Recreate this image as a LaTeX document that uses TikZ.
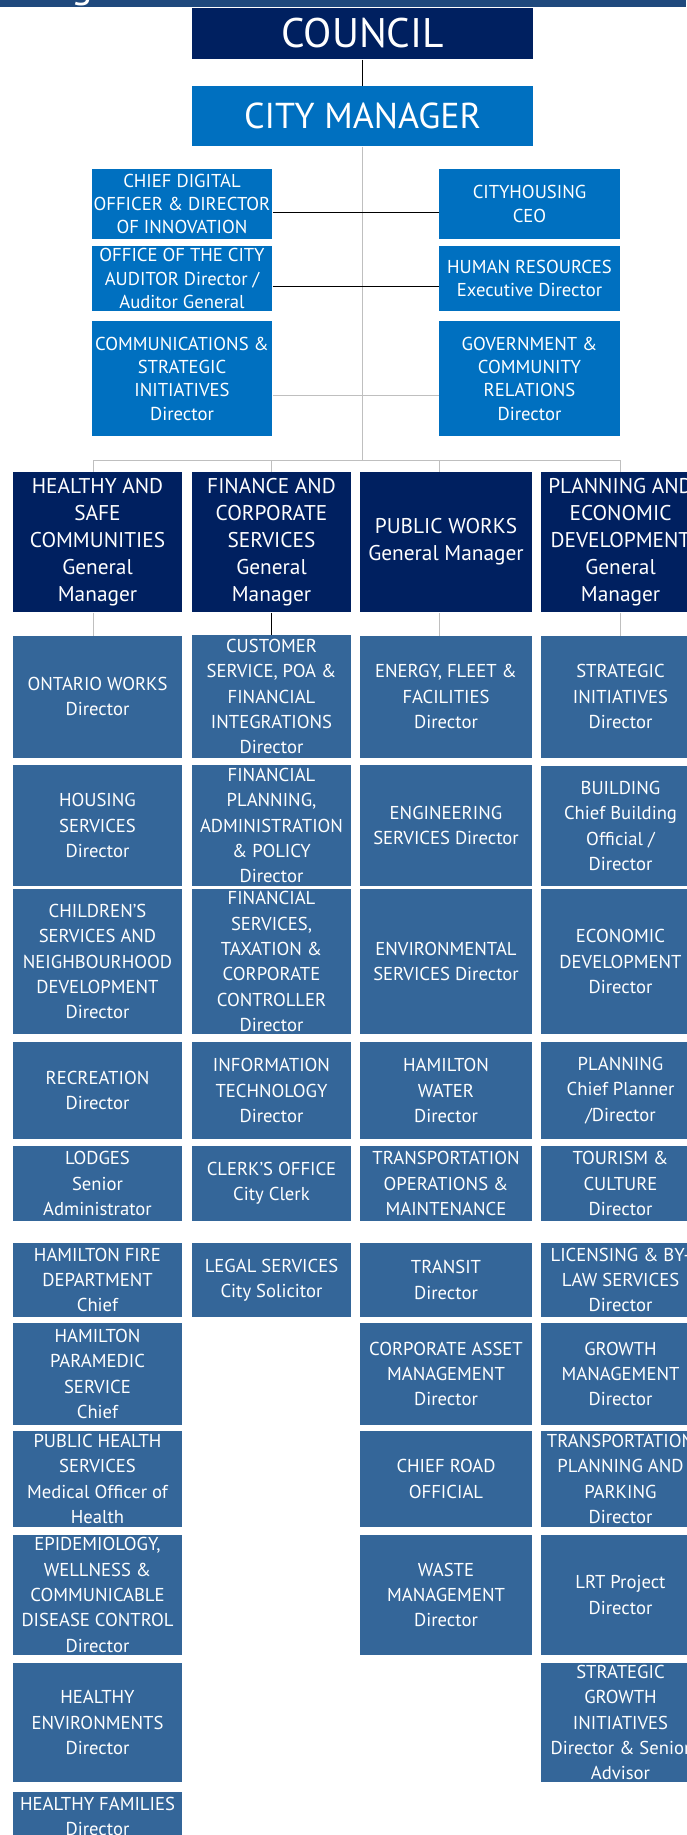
\documentclass[tikz,border=0pt]{standalone}
\usepackage{fontspec}
\setmainfont{PT Sans}

\tikzset{every picture/.style={line width=0.75pt}}
\tikzset{
  bw/.style={minimum width=#1*0.75pt},
  bh/.style={minimum height=#1*0.75pt},
  orgbox/.style={rectangle, inner sep=0pt, align=center, text=white},
  navybox/.style={orgbox, fill={rgb, 255:red, 0; green, 32; blue, 96}, font=\fontsize{16}{20.25}\selectfont},
  cmbox/.style={orgbox, fill={rgb, 255:red, 0; green, 112; blue, 192}, font=\fontsize{14}{17.5}\selectfont},
  dirbox/.style={orgbox, fill={rgb, 255:red, 52; green, 102; blue, 153}, font=\fontsize{14}{19}\selectfont},
  greyline/.style={draw={rgb, 255:red, 191; green, 191; blue, 191}},
  blackline/.style={draw={rgb, 255:red, 0; green, 0; blue, 0}},
}

\begin{document}
\begin{tikzpicture}[x=0.75pt,y=0.75pt,yscale=-1,xscale=1]
\useasboundingbox (0,0) rectangle (686,1835);

%Title band
\fill [color={rgb, 255:red, 31; green, 73; blue, 125 }] (0,0) rectangle (686,6.7);
\node (ttl) [anchor=base, text=white, font=\fontsize{30}{30}\selectfont, inner sep=0pt] at (82,-3) {g};

%Council and City Manager
\node (council) [navybox, bw=341, bh=51, font=\fontsize{31}{31}\selectfont] at (362.5,33.5) {COUNCIL};
\node (cm) [cmbox, bw=341, bh=60, font=\fontsize{27}{27}\selectfont] at (362.5,116) {CITY MANAGER};

%Staff offices
\node (cdo) [cmbox, bw=180, bh=70] at (182,204) {CHIEF DIGITAL\\OFFICER \& DIRECTOR\\OF INNOVATION};
\node (aud) [cmbox, bw=180, bh=65] at (182,278.5) {OFFICE OF THE CITY\\AUDITOR Director /\\Auditor General};
\node (com) [cmbox, bw=180, bh=115] at (182,378.5) {COMMUNICATIONS \&\\STRATEGIC\\INITIATIVES\\Director};
\node (chs) [cmbox, bw=181, bh=70] at (529.5,204) {CITYHOUSING\\CEO};
\node (hr) [cmbox, bw=181, bh=65] at (529.5,278.5) {HUMAN RESOURCES\\Executive Director};
\node (gcr) [cmbox, bw=181, bh=115] at (529.5,378.5) {GOVERNMENT \&\\COMMUNITY\\RELATIONS\\Director};

%General Managers
\node (hsc) [navybox, bw=169, bh=140] at (97.5,542) {HEALTHY AND\\SAFE\\COMMUNITIES\\General\\Manager};
\node (fcs) [navybox, bw=159, bh=140] at (271.5,542) {FINANCE AND\\CORPORATE\\SERVICES\\General\\Manager};
\node (pw) [navybox, bw=172, bh=140] at (446,542) {PUBLIC WORKS\\General Manager};
\node (ped) [navybox, bw=159, bh=140] at (620.5,542) {PLANNING AND\\ECONOMIC\\DEVELOPMENT\\General\\Manager};

%Healthy and Safe Communities
\node (ow) [dirbox, bw=169, bh=121.5] at (97.5,696.75) {ONTARIO WORKS\\Director};
\node (hous) [dirbox, bw=169, bh=121] at (97.5,825.5) {HOUSING\\SERVICES\\Director};
\node (chld) [dirbox, bw=169, bh=145] at (97.5,961.5) {CHILDREN'S\\SERVICES AND\\NEIGHBOURHOOD\\DEVELOPMENT\\Director};
\node (rec) [dirbox, bw=169, bh=97] at (97.5,1090.5) {RECREATION\\Director};
\node (lodg) [dirbox, bw=169, bh=75] at (97.5,1183.5) {LODGES\\Senior\\Administrator};
\node (fire) [dirbox, bw=169, bh=74] at (97.5,1280) {HAMILTON FIRE\\DEPARTMENT\\Chief};
\node (para) [dirbox, bw=169, bh=102] at (97.5,1374) {HAMILTON\\PARAMEDIC\\SERVICE\\Chief};
\node (phs) [dirbox, bw=169, bh=96] at (97.5,1479) {PUBLIC HEALTH\\SERVICES\\Medical Officer of\\Health};
\node (epi) [dirbox, bw=169, bh=120] at (97.5,1595) {EPIDEMIOLOGY,\\WELLNESS \&\\COMMUNICABLE\\DISEASE CONTROL\\Director};
\node (henv) [dirbox, bw=169, bh=119] at (97.5,1722.5) {HEALTHY\\ENVIRONMENTS\\Director};
\node (hfam) [dirbox, bw=169, bh=49] at (97.5,1816.5) {HEALTHY FAMILIES\\Director};

%Finance and Corporate Services
\node (csp) [dirbox, bw=159, bh=123] at (271.5,696.5) {CUSTOMER\\SERVICE, POA \&\\FINANCIAL\\INTEGRATIONS\\Director};
\node (fpap) [dirbox, bw=159, bh=121] at (271.5,825.5) {FINANCIAL\\PLANNING,\\ADMINISTRATION\\\& POLICY\\Director};
\node (fstc) [dirbox, bw=159, bh=145] at (271.5,961.5) {FINANCIAL\\SERVICES,\\TAXATION \&\\CORPORATE\\CONTROLLER\\Director};
\node (it) [dirbox, bw=159, bh=97] at (271.5,1090.5) {INFORMATION\\TECHNOLOGY\\Director};
\node (clrk) [dirbox, bw=159, bh=75] at (271.5,1183.5) {CLERK'S OFFICE\\City Clerk};
\node (legl) [dirbox, bw=159, bh=74] at (271.5,1280) {LEGAL SERVICES\\City Solicitor};

%Public Works
\node (eff) [dirbox, bw=172, bh=121.5] at (446,696.75) {ENERGY, FLEET \&\\FACILITIES\\Director};
\node (eng) [dirbox, bw=172, bh=121] at (446,825.5) {ENGINEERING\\SERVICES Director};
\node (env) [dirbox, bw=172, bh=145] at (446,961.5) {ENVIRONMENTAL\\SERVICES Director};
\node (hw) [dirbox, bw=172, bh=97] at (446,1090.5) {HAMILTON\\WATER\\Director};
\node (tom) [dirbox, bw=172, bh=75] at (446,1183.5) {TRANSPORTATION\\OPERATIONS \&\\MAINTENANCE};
\node (trn) [dirbox, bw=172, bh=74] at (446,1280) {TRANSIT\\Director};
\node (cam) [dirbox, bw=172, bh=102] at (446,1374) {CORPORATE ASSET\\MANAGEMENT\\Director};
\node (cro) [dirbox, bw=172, bh=96] at (446,1479) {CHIEF ROAD\\OFFICIAL};
\node (wm) [dirbox, bw=172, bh=120] at (446,1595) {WASTE\\MANAGEMENT\\Director};

%Planning and Economic Development
\node (si) [dirbox, bw=159, bh=121.5] at (620.5,696.75) {STRATEGIC\\INITIATIVES\\Director};
\node (bld) [dirbox, bw=159, bh=120] at (620.5,826) {BUILDING\\Chief Building\\Official /\\Director};
\node (ecd) [dirbox, bw=159, bh=145] at (620.5,961.5) {ECONOMIC\\DEVELOPMENT\\Director};
\node (pln) [dirbox, bw=159, bh=97] at (620.5,1090.5) {PLANNING\\Chief Planner\\/Director};
\node (tc) [dirbox, bw=159, bh=75] at (620.5,1183.5) {TOURISM \&\\CULTURE\\Director};
\node (lbl) [dirbox, bw=159, bh=74] at (620.5,1280) {LICENSING \& BY-\\LAW SERVICES\\Director};
\node (gm) [dirbox, bw=159, bh=102] at (620.5,1374) {GROWTH\\MANAGEMENT\\Director};
\node (tpp) [dirbox, bw=159, bh=96] at (620.5,1479) {TRANSPORTATION\\PLANNING AND\\PARKING\\Director};
\node (lrt) [dirbox, bw=159, bh=120] at (620.5,1595) {LRT Project\\Director};
\node (sgi) [dirbox, bw=159, bh=119] at (620.5,1722.5) {STRATEGIC\\GROWTH\\INITIATIVES\\Director \& Senior\\Advisor};

%Bus coordinates
\coordinate (bus) at (362.5,460);
\coordinate (busH) at (93,460);
\coordinate (busF) at (271,460);
\coordinate (busP) at (439,460);
\coordinate (busE) at (620,460);

%Connectors
\draw [blackline] (council) -- (cm);
\draw [greyline] (cm) -- (bus);
\draw [blackline] ([yshift=6pt]cdo.east) -- ([yshift=6pt]chs.west);
\draw [blackline] ([yshift=6pt]aud.east) -- ([yshift=6pt]hr.west);
\draw [greyline] ([yshift=12.4pt]com.east) -- ([yshift=12.4pt]gcr.west);
\draw [greyline] (busH) -- (busE);
\draw [greyline] (busH) -- (busH |- hsc.north);
\draw [greyline] (busF) -- (busF |- fcs.north);
\draw [greyline] (busP) -- (busP |- pw.north);
\draw [greyline] (busE) -- (busE |- ped.north);
\draw [greyline] (busH |- hsc.south) -- (busH |- ow.north);
\draw [blackline] (busF |- fcs.south) -- (busF |- csp.north);
\draw [greyline] (busP |- pw.south) -- (busP |- eff.north);
\draw [greyline] (busE |- ped.south) -- (busE |- si.north);

\end{tikzpicture}
\end{document}
